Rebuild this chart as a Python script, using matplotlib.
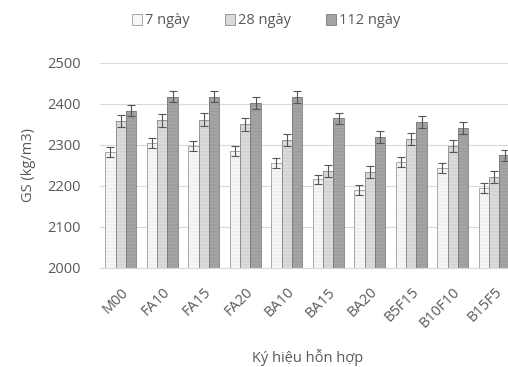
import matplotlib
matplotlib.use("Agg")
import matplotlib.pyplot as plt
import numpy as np

plt.rcParams['font.family'] = ['Open Sans', 'DejaVu Sans']
plt.rcParams['hatch.linewidth'] = 0.4

categories = ["M00", "FA10", "FA15", "FA20", "BA10", "BA15", "BA20", "B5F15", "B10F10", "B15F5"]
series_names = ["7 ngày", "28 ngày", "112 ngày"]
d7 = [2283, 2305, 2297, 2285, 2256, 2216, 2190, 2258, 2244, 2196]
d28 = [2358, 2360, 2362, 2350, 2312, 2236, 2234, 2314, 2298, 2222]
d112 = [2384, 2418, 2418, 2403, 2417, 2365, 2320, 2356, 2341, 2275]
e7 = [12, 12, 12, 12, 12, 12, 12, 12, 12, 12]
e28 = [15, 15, 15, 15, 15, 15, 15, 15, 15, 15]
e112 = [14, 14, 14, 14, 14, 14, 14, 14, 14, 14]
yticks = [2000, 2100, 2200, 2300, 2400, 2500]

W, H = 508, 367
fig = plt.figure(figsize=(W / 100, H / 100), dpi=100)
ax = fig.add_axes([100 / W, 1 - 268 / H, 415 / W, (268 - 63) / H])

x = np.arange(len(categories))
bw = 0.25
fills = ["#f6f6f6", "#dadada", "#a4a4a4"]
hatch_cols = ["#e6e6e6", "#cacaca", "#949494"]
edges = ["#9a9a9a", "#8a8a8a", "#7a7a7a"]
hatches = ["-----", "-----", "-----"]
for i, (vals, errs) in enumerate([(d7, e7), (d28, e28), (d112, e112)]):
    pos = x + (i - 1) * bw
    hts = np.array(vals) - 2000
    ax.bar(pos, hts, bw, bottom=2000, color=fills[i], edgecolor=hatch_cols[i],
           linewidth=0, hatch=hatches[i], zorder=2)
    ax.bar(pos, hts, bw, bottom=2000, facecolor='none', edgecolor=edges[i],
           linewidth=0.6, zorder=2.1)
    ax.bar([np.nan], [np.nan], color=fills[i], edgecolor=edges[i], linewidth=0.6,
           label=series_names[i])
    ax.errorbar(pos, vals, yerr=errs, fmt='none', ecolor='#555555',
                elinewidth=0.8, capsize=3, capthick=0.8, zorder=3)

ax.set_ylim(2000, 2500)
ax.set_xlim(-0.5, len(categories) - 0.5)
ax.set_yticks(yticks)
ax.set_xticks(x)
ax.set_xticklabels(categories, rotation=45, ha='right', rotation_mode='anchor')
ax.yaxis.grid(True, color='#d9d9d9', linewidth=0.8, zorder=0)
ax.set_axisbelow(True)
for s in ['top', 'right', 'left']:
    ax.spines[s].set_visible(False)
ax.spines['bottom'].set_color('#d9d9d9')
ax.tick_params(axis='both', length=0, colors='#595959', labelsize=10.5)
ax.tick_params(axis='y', pad=14)
ax.tick_params(axis='x', pad=12)
ax.set_ylabel("GS (kg/m3)", color='#595959', fontsize=10.5, labelpad=8)
ax.set_xlabel("Ký hiệu hỗn hợp", color='#595959', fontsize=10.5, labelpad=13)

leg = fig.legend(loc='center', bbox_to_anchor=(266 / W, 1 - 21 / H), ncol=3, frameon=False,
                 fontsize=10.5, handlelength=0.7, handleheight=0.7, handletextpad=0.2,
                 columnspacing=2.4, labelcolor='#595959')
fig.savefig("out.png", dpi=100)
